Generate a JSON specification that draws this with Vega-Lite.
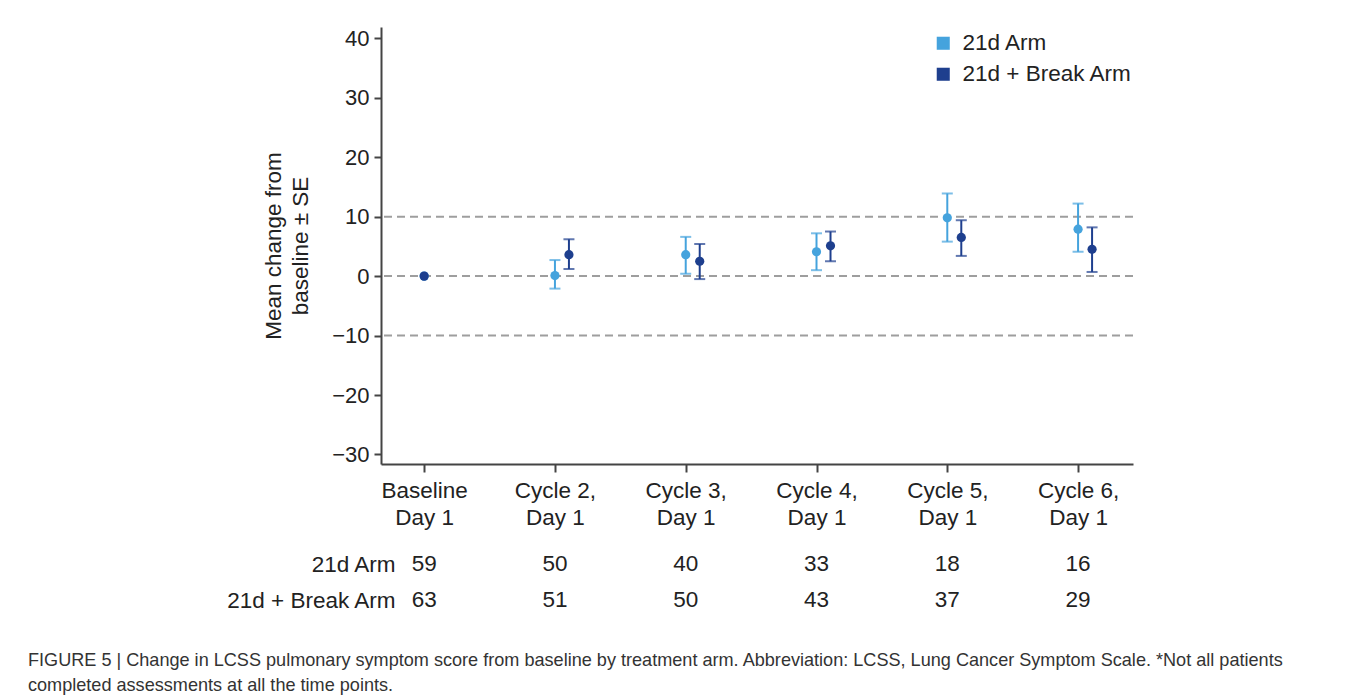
{
  "$schema": "https://vega.github.io/schema/vega-lite/v6.json",
  "padding": {"left": 28, "top": 27, "right": 5, "bottom": 5},
  "background": "white",
  "config": {
    "font": "Liberation Sans",
    "view": {"stroke": null},
    "axis": {"grid": false, "labelFont": "Liberation Sans", "titleFont": "Liberation Sans"}
  },
  "title": {
    "text": ["FIGURE 5 | Change in LCSS pulmonary symptom score from baseline by treatment arm. Abbreviation: LCSS, Lung Cancer Symptom Scale. *Not all patients", "completed assessments at all the time points."],
    "orient": "bottom",
    "anchor": "start",
    "frame": "group",
    "fontSize": 18.1,
    "fontWeight": "normal",
    "color": "#333333",
    "lineHeight": 25,
    "offset": 34,
    "dx": -353
  },
  "datasets": {
    "stats": [
      {"visit": "Baseline Day 1", "arm": "21d Arm", "mean": 0, "lo": null, "hi": null, "n": 59},
      {"visit": "Baseline Day 1", "arm": "21d + Break Arm", "mean": 0, "lo": null, "hi": null, "n": 63},
      {"visit": "Cycle 2, Day 1", "arm": "21d Arm", "mean": 0.1, "lo": -2.1, "hi": 2.7, "n": 50},
      {"visit": "Cycle 2, Day 1", "arm": "21d + Break Arm", "mean": 3.6, "lo": 1.2, "hi": 6.2, "n": 51},
      {"visit": "Cycle 3, Day 1", "arm": "21d Arm", "mean": 3.6, "lo": 0.4, "hi": 6.6, "n": 40},
      {"visit": "Cycle 3, Day 1", "arm": "21d + Break Arm", "mean": 2.5, "lo": -0.5, "hi": 5.4, "n": 50},
      {"visit": "Cycle 4, Day 1", "arm": "21d Arm", "mean": 4.1, "lo": 1.0, "hi": 7.2, "n": 33},
      {"visit": "Cycle 4, Day 1", "arm": "21d + Break Arm", "mean": 5.1, "lo": 2.5, "hi": 7.5, "n": 43},
      {"visit": "Cycle 5, Day 1", "arm": "21d Arm", "mean": 9.8, "lo": 5.8, "hi": 13.9, "n": 18},
      {"visit": "Cycle 5, Day 1", "arm": "21d + Break Arm", "mean": 6.5, "lo": 3.4, "hi": 9.4, "n": 37},
      {"visit": "Cycle 6, Day 1", "arm": "21d Arm", "mean": 7.9, "lo": 4.1, "hi": 12.2, "n": 16},
      {"visit": "Cycle 6, Day 1", "arm": "21d + Break Arm", "mean": 4.5, "lo": 0.7, "hi": 8.2, "n": 29}
    ],
    "refs": [{"v": -10}, {"v": 0}, {"v": 10}]
  },
  "vconcat": [
    {
      "width": 752,
      "height": 437,
      "data": {"name": "stats"},
      "encoding": {
        "x": {
          "field": "visit",
          "type": "nominal",
          "sort": null,
          "scale": {"type": "point", "domain": ["Baseline Day 1", "Cycle 2, Day 1", "Cycle 3, Day 1", "Cycle 4, Day 1", "Cycle 5, Day 1", "Cycle 6, Day 1"], "padding": 0.375, "align": 0.44},
          "axis": {
            "title": null,
            "labelAngle": 0,
            "labelFontSize": 22.5,
            "labelColor": "#222222",
            "labelPadding": 7,
            "labelLineHeight": 27,
            "labelExpr": "[slice(datum.label, 0, indexof(datum.label, 'Day') - 1), 'Day 1']",
            "tickSize": 8,
            "tickWidth": 2,
            "tickColor": "#444444",
            "domainColor": "#444444",
            "domainWidth": 2
          }
        },
        "color": {
          "field": "arm",
          "type": "nominal",
          "scale": {"domain": ["21d Arm", "21d + Break Arm"], "range": ["#45a3dd", "#1e3f8e"]},
          "legend": {
            "title": null,
            "orient": "none",
            "legendX": 551,
            "legendY": 5,
            "padding": 0,
            "symbolType": "square",
            "symbolSize": 170,
            "symbolOpacity": 1,
            "symbolStrokeWidth": 0,
            "labelFontSize": 22.5,
            "labelColor": "#222222",
            "labelOffset": 8,
            "labelLimit": 400,
            "rowPadding": 8
          }
        }
      },
      "layer": [
        {
          "data": {"name": "refs"},
          "mark": {"type": "rule", "color": "#9e9e9e", "strokeWidth": 2, "strokeDash": [8, 5]},
          "encoding": {
            "x": null,
            "color": null,
            "y": {
              "field": "v",
              "type": "quantitative",
              "scale": {"domain": [-31.6, 41.9], "nice": false, "zero": false},
              "axis": {
                "values": [-30, -20, -10, 0, 10, 20, 30, 40],
                "title": ["Mean change from", "baseline ± SE"],
                "titleFontSize": 22.5,
                "titleFontWeight": "normal",
                "titleColor": "#222222",
                "titleLineHeight": 27,
                "titlePadding": 19,
                "labelFontSize": 22,
                "labelColor": "#222222",
                "labelPadding": 5,
                "tickSize": 7,
                "tickWidth": 2,
                "tickColor": "#444444",
                "domainColor": "#444444",
                "domainWidth": 2
              }
            }
          }
        },
        {
          "transform": [{"filter": "datum.lo != null && datum.arm == '21d Arm'"}],
          "mark": {"type": "rule", "strokeWidth": 2},
          "encoding": {"y": {"field": "lo", "type": "quantitative"}, "y2": {"field": "hi"}}
        },
        {
          "transform": [{"filter": "datum.lo != null && datum.arm == '21d + Break Arm'"}],
          "mark": {"type": "rule", "strokeWidth": 2, "xOffset": 14},
          "encoding": {"y": {"field": "lo", "type": "quantitative"}, "y2": {"field": "hi"}}
        },
        {
          "transform": [{"filter": "datum.lo != null && datum.arm == '21d Arm'"}, {"fold": ["lo", "hi"], "as": ["end", "bound"]}],
          "mark": {"type": "tick", "size": 11, "thickness": 2},
          "encoding": {"y": {"field": "bound", "type": "quantitative"}}
        },
        {
          "transform": [{"filter": "datum.lo != null && datum.arm == '21d + Break Arm'"}, {"fold": ["lo", "hi"], "as": ["end", "bound"]}],
          "mark": {"type": "tick", "size": 11, "thickness": 2, "xOffset": 14},
          "encoding": {"y": {"field": "bound", "type": "quantitative"}}
        },
        {
          "transform": [{"filter": "datum.lo != null && datum.arm == '21d Arm'"}],
          "mark": {"type": "circle", "size": 85, "opacity": 1},
          "encoding": {"y": {"field": "mean", "type": "quantitative"}}
        },
        {
          "transform": [{"filter": "datum.lo != null && datum.arm == '21d + Break Arm'"}],
          "mark": {"type": "circle", "size": 85, "opacity": 1, "xOffset": 14},
          "encoding": {"y": {"field": "mean", "type": "quantitative"}}
        },
        {
          "transform": [{"filter": "datum.lo == null"}],
          "mark": {"type": "circle", "size": 85, "opacity": 1},
          "encoding": {"y": {"field": "mean", "type": "quantitative"}}
        }
      ]
    },
    {
      "width": 752,
      "height": 72,
      "data": {"name": "stats"},
      "mark": {"type": "text", "fontSize": 22.5, "color": "#222222"},
      "encoding": {
        "x": {"field": "visit", "type": "nominal", "sort": null, "axis": null},
        "y": {
          "field": "arm",
          "type": "nominal",
          "sort": ["21d Arm", "21d + Break Arm"],
          "scale": {"paddingInner": 0, "paddingOuter": 0},
          "axis": {"title": null, "domain": false, "ticks": false, "labelFontSize": 22.5, "labelColor": "#222222", "labelPadding": -14}
        },
        "text": {"field": "n", "type": "quantitative"}
      }
    }
  ],
  "resolve": {"scale": {"x": "shared"}},
  "spacing": 82,
  "bounds": "flush"
}
